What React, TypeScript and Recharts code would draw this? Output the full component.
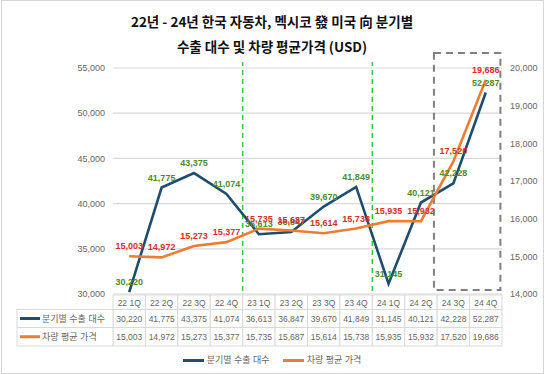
import React from 'react';
import {
  ComposedChart,
  Line,
  XAxis,
  YAxis,
  CartesianGrid,
  LabelList,
  ReferenceLine,
  ReferenceArea,
} from 'recharts';

const quarters = ['22 1Q', '22 2Q', '22 3Q', '22 4Q', '23 1Q', '23 2Q', '23 3Q', '23 4Q', '24 1Q', '24 2Q', '24 3Q', '24 4Q'];
const exportUnits = [30220, 41775, 43375, 41074, 36613, 36847, 39670, 41849, 31145, 40121, 42228, 52287];
const avgPrice = [15003, 14972, 15273, 15377, 15735, 15687, 15614, 15738, 15935, 15932, 17520, 19686];
const leftTicks = [30000, 35000, 40000, 45000, 50000, 55000];
const rightTicks = [14000, 15000, 16000, 17000, 18000, 19000, 20000];
const seriesNames = ['분기별 수출 대수', '차량 평균 가격'];
const titleLines = ['22년 - 24년 한국 자동차, 멕시코 發 미국 向 분기별', '수출 대수 및 차량 평균가격 (USD)'];
const yearBreaks = [3.5, 7.5]; // between 22 4Q / 23 1Q and 23 4Q / 24 1Q

const W = 544;
const H = 374;
const PLOT_LEFT = 113;
const PLOT_RIGHT = 502;
const COL_W = (PLOT_RIGHT - PLOT_LEFT) / quarters.length;

const BLUE = '#1d4e6f';
const ORANGE = '#ed7d31';
const GREEN_LABEL = '#4f8a2b';
const RED_LABEL = '#d0312d';
const GRID = '#d9d9d9';
const TEXT = '#666';
const FONT = '"Liberation Sans", "Noto Sans CJK KR", sans-serif';

const data = quarters.map((q, i) => ({ i, q, units: exportUnits[i], price: avgPrice[i] }));
const fmt = (v: number) => v.toLocaleString('en-US');
const seriesColors = [BLUE, ORANGE];

// column of the data table under each quarter
const TableTick = (props: any) => {
  const { x, payload } = props;
  const i = payload.value as number;
  const left = x - COL_W / 2;
  const rows = [
    { top: 295, h: 14.5, text: quarters[i] },
    { top: 309.5, h: 18, text: fmt(exportUnits[i]) },
    { top: 327.5, h: 18.5, text: fmt(avgPrice[i]) },
  ];
  return (
    <g>
      {rows.map((r, k) => (
        <g key={k}>
          <rect x={left} y={r.top} width={COL_W} height={r.h} fill="#fff" stroke={GRID} strokeWidth={1} />
          <text
            x={x}
            y={r.top + r.h / 2 + 0.5}
            textAnchor="middle"
            dominantBaseline="central"
            fontSize={8.5}
            fill={TEXT}
            fontFamily={FONT}
          >
            {r.text}
          </text>
        </g>
      ))}
      {i === 0 &&
        rows.slice(1).map((r, k) => (
          <g key={'h' + k}>
            <rect x={17} y={r.top} width={left - 17} height={r.h} fill="#fff" stroke={GRID} strokeWidth={1} />
            <line x1={20} x2={40} y1={r.top + r.h / 2} y2={r.top + r.h / 2} stroke={seriesColors[k]} strokeWidth={3} />
            <text
              x={42}
              y={r.top + r.h / 2 + 0.5}
              dominantBaseline="central"
              fontSize={9}
              fill={TEXT}
              fontFamily={FONT}
            >
              {seriesNames[k]}
            </text>
          </g>
        ))}
    </g>
  );
};

export default function App() {
  return (
    <div style={{ position: 'absolute', left: 0, top: 0, width: W, height: H, background: '#fff', fontFamily: FONT }}>
      <div
        style={{
          position: 'absolute',
          left: 0,
          top: 9,
          width: W,
          textAlign: 'center',
          fontSize: 13.5,
          fontWeight: 'bold',
          lineHeight: '25px',
          color: '#111',
          fontFamily: '"Noto Sans CJK KR", sans-serif',
        }}
      >
        {titleLines.map((t) => (
          <div key={t}>{t}</div>
        ))}
      </div>

      <ComposedChart
        width={W}
        height={H}
        data={data}
        margin={{ top: 68, right: 0, bottom: 0, left: 53 }}
        style={{ position: 'absolute', left: 0, top: 0 }}
      >
        <CartesianGrid vertical={false} stroke={GRID} strokeWidth={1.2} yAxisId="left" />
        <XAxis
          dataKey="i"
          type="number"
          domain={[-0.5, 11.5]}
          ticks={quarters.map((_, i) => i)}
          interval={0}
          height={80}
          axisLine={false}
          tickLine={false}
          tick={<TableTick />}
        />
        <YAxis
          yAxisId="left"
          width={60}
          domain={[30000, 55000]}
          ticks={leftTicks}
          tickFormatter={fmt}
          axisLine={false}
          tickLine={false}
          tick={{ fontSize: 9, fill: TEXT, fontFamily: FONT }}
        />
        <YAxis
          yAxisId="right"
          orientation="right"
          width={42}
          domain={[14000, 20000]}
          ticks={rightTicks}
          tickFormatter={fmt}
          axisLine={false}
          tickLine={false}
          tick={{ fontSize: 9, fill: TEXT, fontFamily: FONT, textAnchor: 'start' }}
        />
        {yearBreaks.map((b) => (
          <ReferenceLine
            key={b}
            yAxisId="left"
            ifOverflow="visible"
            segment={[
              { x: b, y: 29350 },
              { x: b, y: 55650 },
            ]}
            stroke="#3cc43c"
            strokeWidth={1.5}
            strokeDasharray="5 4"
          />
        ))}
        <ReferenceArea
          yAxisId="left"
          x1={9.4}
          x2={11.45}
          y1={30450}
          y2={56650}
          ifOverflow="visible"
          fill="none"
          stroke="#808080"
          strokeWidth={2}
          strokeDasharray="7 5"
        />
        <Line
          yAxisId="left"
          dataKey="units"
          name={seriesNames[0]}
          stroke={BLUE}
          strokeWidth={2.6}
          dot={false}
          isAnimationActive={false}
        >
          <LabelList
            dataKey="units"
            position="top"
            offset={7}
            formatter={(v: any) => fmt(Number(v))}
            style={{ fontSize: 9, fontWeight: 'bold', fill: GREEN_LABEL, fontFamily: FONT }}
          />
        </Line>
        <Line
          yAxisId="right"
          dataKey="price"
          name={seriesNames[1]}
          stroke={ORANGE}
          strokeWidth={2.6}
          dot={false}
          isAnimationActive={false}
        >
          <LabelList
            dataKey="price"
            position="top"
            offset={7}
            formatter={(v: any) => fmt(Number(v))}
            style={{ fontSize: 9, fontWeight: 'bold', fill: RED_LABEL, fontFamily: FONT }}
          />
        </Line>
      </ComposedChart>

      {/* legend */}
      <div
        style={{
          position: 'absolute',
          left: 0,
          top: 353,
          width: W,
          display: 'flex',
          justifyContent: 'center',
          gap: 13,
          fontSize: 9,
          color: TEXT,
          lineHeight: '14px',
        }}
      >
        {seriesNames.map((n, k) => (
          <div key={n} style={{ display: 'flex', alignItems: 'center' }}>
            <span style={{ display: 'inline-block', width: 21, height: 3, background: seriesColors[k], marginRight: 3 }} />
            <span>{n}</span>
          </div>
        ))}
      </div>

      <div
        style={{
          position: 'absolute',
          left: 1,
          top: 0,
          width: W - 3,
          height: H - 2,
          border: '1px solid #d6d6d6',
          pointerEvents: 'none',
        }}
      />
    </div>
  );
}
